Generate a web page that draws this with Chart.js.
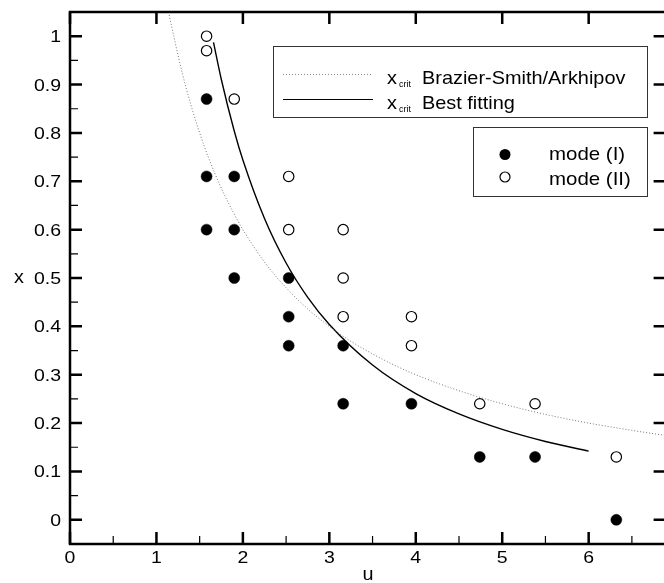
<!DOCTYPE html>
<html>
<head>
<meta charset="utf-8">
<script src="https://cdn.jsdelivr.net/npm/chart.js@4.4.0/dist/chart.umd.min.js"></script>
<style>
  html, body { margin: 0; padding: 0; background: #fff; overflow: hidden; }
  canvas { display: block; }
</style>
</head>
<body>
<canvas id="chart" width="672" height="583"></canvas>
<script>
// tick labels
const xTicks = [0, 1, 2, 3, 4, 5, 6];
const yTicks = [0, 0.1, 0.2, 0.3, 0.4, 0.5, 0.6, 0.7, 0.8, 0.9, 1];

// measured points, mode (I) = filled, mode (II) = open
const modeIU = [1.58, 1.58, 1.58, 1.9, 1.9, 1.9, 2.53, 2.53, 2.53, 3.16, 3.16, 3.95, 4.74, 5.38, 6.32];
const modeIX = [0.87, 0.71, 0.6, 0.71, 0.6, 0.5, 0.5, 0.42, 0.36, 0.36, 0.24, 0.24, 0.13, 0.13, 0];
const modeIIU = [1.58, 1.58, 1.9, 2.53, 2.53, 3.16, 3.16, 3.16, 3.95, 3.95, 4.74, 5.38, 6.32];
const modeIIX = [1.0, 0.97, 0.87, 0.71, 0.6, 0.6, 0.5, 0.42, 0.42, 0.36, 0.24, 0.24, 0.13];

// x_crit Brazier-Smith/Arkhipov (dotted)
const bsU = [1.14, 1.2, 1.3, 1.4, 1.5, 1.6, 1.75, 1.9, 2.0, 2.25, 2.5, 2.75, 3.0, 3.25, 3.5, 3.75, 4.0, 4.5, 5.0, 5.5, 6.0, 6.5, 6.9];
const bsX = [1.05, 1.0, 0.923, 0.857, 0.8, 0.75, 0.686, 0.632, 0.6, 0.533, 0.48, 0.436, 0.4, 0.369, 0.343, 0.32, 0.3, 0.267, 0.24, 0.218, 0.2, 0.185, 0.174];

// x_crit Best fitting (solid)
const fitU = [1.66, 1.75, 1.9, 2.0, 2.25, 2.5, 2.75, 3.0, 3.5, 4.0, 4.5, 5.0, 5.5, 6.0];
const fitX = [0.987, 0.911, 0.804, 0.744, 0.623, 0.531, 0.46, 0.404, 0.32, 0.261, 0.219, 0.187, 0.162, 0.142];

const toPts = (us, xs) => us.map((u, i) => ({ x: u, y: xs[i] }));

const FONT = '"Liberation Sans", Arial, sans-serif';

// the original lettering is a bit wider than Liberation Sans, so stretch it
function wideText(ctx, text, x, y, size, sx, align) {
    ctx.save();
    ctx.font = size + 'px ' + FONT;
    const w = ctx.measureText(text).width * sx;
    let left = x;
    if (align === 'right') left = x - w;
    if (align === 'center') left = x - w / 2;
    ctx.translate(left, y);
    ctx.scale(sx, 1);
    ctx.textAlign = 'left';
    ctx.textBaseline = 'alphabetic';
    ctx.fillText(text, 0, 0);
    ctx.restore();
    return w;
}

const framePlugin = {
    id: 'frame',
    afterDraw(chart) {
        const ctx = chart.ctx;
        const a = chart.chartArea;
        const xs = chart.scales.x;
        const ys = chart.scales.y;
        ctx.save();
        ctx.strokeStyle = '#000';
        ctx.fillStyle = '#000';

        // frame
        ctx.lineWidth = 2.5;
        ctx.strokeRect(a.left, a.top, a.right - a.left, a.bottom - a.top);

        // major ticks, inward on all four sides
        ctx.beginPath();
        xTicks.forEach(v => {
            const px = xs.getPixelForValue(v);
            ctx.moveTo(px, a.bottom); ctx.lineTo(px, a.bottom - 12);
            ctx.moveTo(px, a.top); ctx.lineTo(px, a.top + 12);
        });
        yTicks.forEach(v => {
            const py = ys.getPixelForValue(v);
            ctx.moveTo(a.left, py); ctx.lineTo(a.left + 12, py);
            ctx.moveTo(a.right, py); ctx.lineTo(a.right - 12, py);
        });
        ctx.stroke();

        // minor ticks bottom and left
        ctx.lineWidth = 1.2;
        ctx.beginPath();
        for (let v = 0.5; v < 6.9; v += 1) {
            const px = xs.getPixelForValue(v);
            ctx.moveTo(px, a.bottom); ctx.lineTo(px, a.bottom - 8);
        }
        for (let v = -0.05; v < 1.06; v += 0.1) {
            const py = ys.getPixelForValue(v);
            if (py > a.bottom - 1 || py < a.top + 1) continue;
            ctx.moveTo(a.left, py); ctx.lineTo(a.left + 8, py);
        }
        ctx.stroke();

        // tick labels
        xTicks.forEach(v => {
            wideText(ctx, String(v), xs.getPixelForValue(v), a.bottom + 19, 16.5, 1.18, 'center');
        });
        yTicks.forEach(v => {
            wideText(ctx, String(v), a.left - 9, ys.getPixelForValue(v) + 6, 16.5, 1.18, 'right');
        });

        // axis titles
        wideText(ctx, 'u', 368, 580, 18, 1.1, 'center');
        wideText(ctx, 'x', 19, 283, 18, 1.1, 'center');

        // legend 1: curves
        ctx.lineWidth = 1;
        ctx.strokeStyle = '#333';
        ctx.strokeRect(273.5, 46.5, 374, 71);
        ctx.strokeStyle = '#888';
        ctx.setLineDash([1, 2]);
        ctx.beginPath(); ctx.moveTo(283, 74.5); ctx.lineTo(372, 74.5); ctx.stroke();
        ctx.setLineDash([]);
        ctx.strokeStyle = '#000';
        ctx.beginPath(); ctx.moveTo(283, 99.5); ctx.lineTo(373, 99.5); ctx.stroke();

        const rows = [['Brazier-Smith/Arkhipov', 83.5], ['Best fitting', 108.5]];
        rows.forEach(([t, y]) => {
            wideText(ctx, 'x', 387, y, 18.6, 1.07, 'left');
            wideText(ctx, 'crit', 399, y + 3, 8.5, 1.05, 'left');
            wideText(ctx, t, 422, y, 18.6, 1.07, 'left');
        });

        // legend 2: markers
        ctx.strokeStyle = '#333';
        ctx.strokeRect(473.5, 127.5, 174, 69);
        ctx.beginPath(); ctx.arc(505, 154.5, 5.5, 0, Math.PI * 2); ctx.fill();
        ctx.fillStyle = '#fff';
        ctx.strokeStyle = '#000';
        ctx.lineWidth = 1.2;
        ctx.beginPath(); ctx.arc(505, 177, 5, 0, Math.PI * 2); ctx.fill(); ctx.stroke();
        ctx.fillStyle = '#000';
        wideText(ctx, 'mode (I)', 549, 159.5, 18.6, 1.1, 'left');
        wideText(ctx, 'mode (II)', 549, 184.5, 18.6, 1.1, 'left');

        ctx.restore();
    }
};

new Chart(document.getElementById('chart').getContext('2d'), {
    type: 'scatter',
    data: {
        datasets: [
            {
                label: 'x_crit Brazier-Smith/Arkhipov',
                type: 'line',
                data: toPts(bsU, bsX),
                borderColor: '#777',
                borderWidth: 1,
                borderDash: [1, 2],
                pointRadius: 0,
                fill: false,
                cubicInterpolationMode: 'monotone'
            },
            {
                label: 'x_crit Best fitting',
                type: 'line',
                data: toPts(fitU, fitX),
                borderColor: '#000',
                borderWidth: 1.4,
                pointRadius: 0,
                fill: false,
                cubicInterpolationMode: 'monotone'
            },
            {
                label: 'mode (I)',
                data: toPts(modeIU, modeIX),
                pointRadius: 5.5,
                pointBackgroundColor: '#000',
                pointBorderColor: '#000',
                pointBorderWidth: 0.5
            },
            {
                label: 'mode (II)',
                data: toPts(modeIIU, modeIIX),
                pointRadius: 5.2,
                pointBackgroundColor: '#fff',
                pointBorderColor: '#000',
                pointBorderWidth: 1.2
            }
        ]
    },
    options: {
        responsive: false,
        animation: false,
        layout: { padding: { top: 12, right: 5, left: 0, bottom: 0 } },
        plugins: {
            legend: { display: false },
            tooltip: { enabled: false }
        },
        scales: {
            x: {
                type: 'linear',
                min: 0,
                max: 6.89,
                grid: { display: false, drawTicks: false },
                border: { display: false },
                ticks: { display: false },
                afterFit: s => { s.height = 39; s.paddingLeft = 0; s.paddingRight = 0; }
            },
            y: {
                type: 'linear',
                min: -0.05,
                max: 1.05,
                grid: { display: false, drawTicks: false },
                border: { display: false },
                ticks: { display: false },
                afterFit: s => { s.width = 70; s.paddingTop = 0; s.paddingBottom = 0; }
            }
        }
    },
    plugins: [framePlugin]
});
</script>
</body>
</html>
